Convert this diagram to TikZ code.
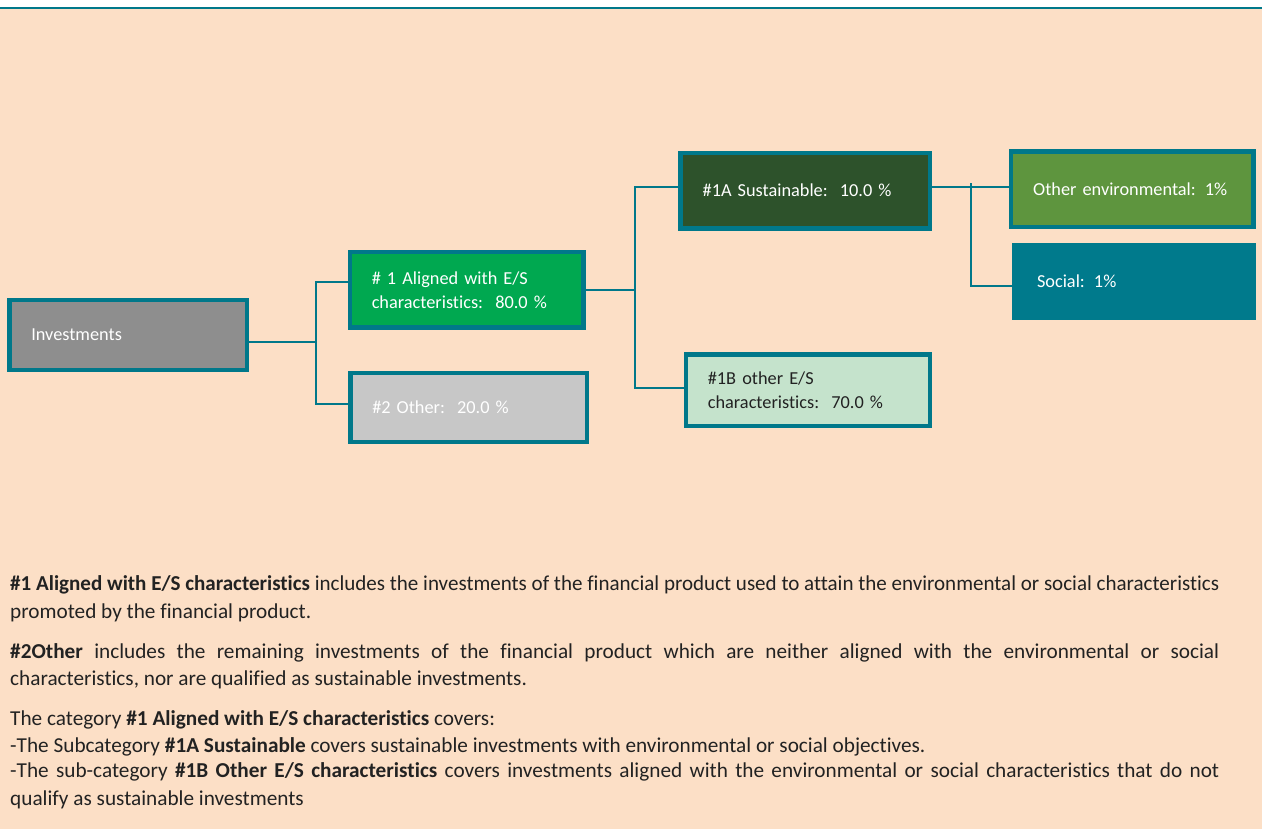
\documentclass[tikz,border=0pt]{standalone}
\usepackage{fontspec}
\setmainfont{Carlito}[Ligatures=NoCommon]
\usetikzlibrary{calc}
\definecolor{bg}{RGB}{252,223,198}
\definecolor{tealb}{RGB}{0,120,138}
\definecolor{invgray}{RGB}{142,142,142}
\definecolor{greenA}{RGB}{0,168,80}
\definecolor{grayB}{RGB}{199,199,199}
\definecolor{dkgreen}{RGB}{45,82,43}
\definecolor{ltgreen}{RGB}{197,227,204}
\definecolor{envgreen}{RGB}{94,149,62}
\definecolor{socteal}{RGB}{0,122,140}
\definecolor{txt}{RGB}{34,34,34}
\newsavebox\linebox
\newcommand\jline[1]{\sbox\linebox{#1}\ifdim\wd\linebox>1209pt\resizebox{1209pt}{\height}{\usebox\linebox}\else\makebox[1209pt][s]{#1}\fi}
\tikzset{
  box/.style={draw=tealb, line width=4.5pt, inner xsep=22pt, inner ysep=0pt, align=left, text=white, font=\fontsize{18.3}{24}\selectfont},
  conn/.style={draw=tealb, line width=1.8pt},
  body/.style={inner sep=0pt, text=txt, anchor=base west, font=\fontsize{21.25}{26}\selectfont}
}
\begin{document}
\begin{tikzpicture}[x=1pt,y=-1pt]
\useasboundingbox (0,0) rectangle (1262,829);
\fill[white] (0,0) rectangle (1262,829);
\fill[bg] (0,9) rectangle (1262,829);
\fill[tealb] (0,6.7) rectangle (1262,9);

\node[box, fill=invgray, text width=193.5pt, minimum height=69.5pt] (inv) at (128,335) {Investments};
\node[box, fill=greenA, text width=189.5pt, minimum height=75.5pt] (a1) at (466.5,290) {\# 1 Aligned with E/S\\characteristics:\ \ 80.0 \%};
\node[box, fill=grayB, text width=192.5pt, minimum height=68.75pt] (a2) at (468.5,407.4) {\#2 Other:\ \ 20.0 \%};
\node[box, fill=dkgreen, text width=205.4pt, minimum height=75.5pt] (s1a) at (805.35,190.7) {\#1A Sustainable:\ \ 10.0 \%};
\node[box, fill=ltgreen, text=txt, text width=200.2pt, minimum height=71.5pt] (s1b) at (807.95,390.3) {\#1B other E/S\\characteristics:\ \ 70.0 \%};
\node[box, fill=envgreen, text width=198.1pt, minimum height=75.5pt] (env) at (1132.2,189.3) {Other environmental: 1\%};
\node[box, draw=socteal, fill=socteal, inner xsep=22.75pt, text width=193.5pt, minimum height=72.2pt] (soc) at (1133.75,281.65) {Social: 1\%};

\coordinate (j1) at (315.7,342);
\coordinate (j2) at (634.8,290);
\coordinate (j3) at (970.6,186.7);

\draw[conn] ([yshift=-7pt]inv.east) -- (j1);
\draw[conn] ([yshift=8.3pt]a1.west) -| (j1) |- ([yshift=3.4pt]a2.west);
\draw[conn] (a1.east) -- (j2);
\draw[conn] ([yshift=4pt]s1a.west) -| (j2) |- ([yshift=2pt]s1b.west);
\draw[conn] ([yshift=4pt]s1a.east) -- ([yshift=2.6pt]env.west);
\draw[conn] ([yshift=3.4pt]j3) |- ([yshift=-4pt]soc.west);

\node[body] (l1) at (10,590) {\jline{\textbf{\#1 Aligned with E/S characteristics} includes the investments of the financial product used to attain the environmental or social characteristics}};
\node[body] (l2) at (10,618.3) {promoted by the financial product.};
\node[body] (l3) at (10,658.3) {\jline{\textbf{\#2Other} includes the remaining investments of the financial product which are neither aligned with the environmental or social}};
\node[body] (l4) at (10,685) {characteristics, nor are qualified as sustainable investments.};
\node[body] (l5) at (10,725.7) {The category \textbf{\#1 Aligned with E/S characteristics} covers:};
\node[body] (l6) at (10,752.7) {-The Subcategory \textbf{\#1A Sustainable} covers sustainable investments with environmental or social objectives.};
\node[body] (l7) at (10,777.7) {\jline{-The sub-category \textbf{\#1B Other E/S characteristics} covers investments aligned with the environmental or social characteristics that do not}};
\node[body] (l8) at (10,805) {qualify as sustainable investments};
\end{tikzpicture}
\end{document}
